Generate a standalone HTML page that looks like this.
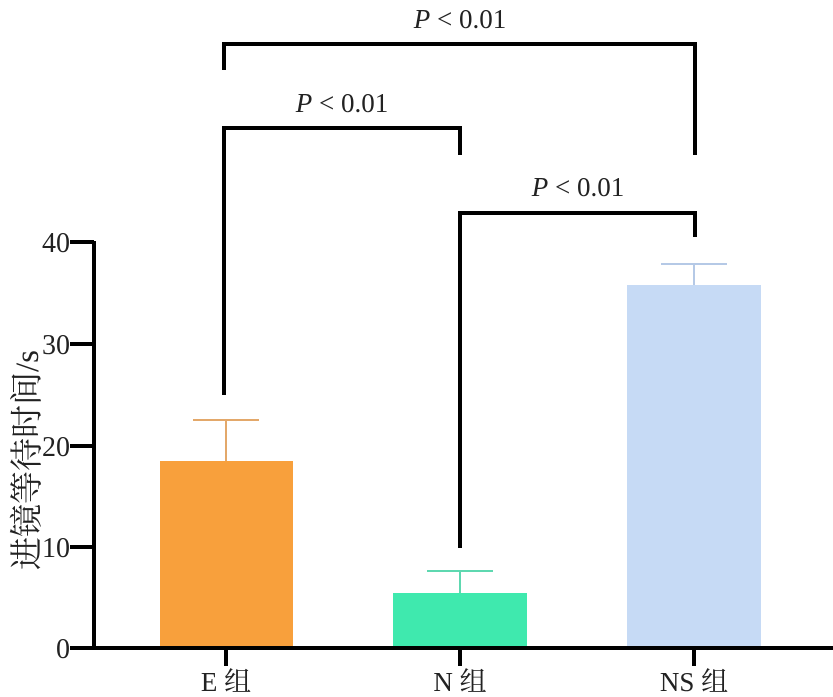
<!DOCTYPE html>
<html><head><meta charset="utf-8"><style>body{margin:0;background:#fff}
svg text{font-family:"Liberation Serif","Times New Roman","Noto Serif CJK SC",serif;fill:#222}
</style></head><body>
<svg width="833" height="697" viewBox="0 0 833 697" xmlns="http://www.w3.org/2000/svg" style="display:block">
<rect x="160" y="461" width="133" height="187" fill="#F8A03C"/>
<rect x="393" y="593" width="134" height="55" fill="#3FE9AE"/>
<rect x="627" y="285" width="134" height="363" fill="#C6DAF5"/>
<g stroke-width="2">
<line x1="226" y1="461" x2="226" y2="420" stroke="#E3A86A"/><line x1="193" y1="420" x2="259" y2="420" stroke="#E3A86A"/>
<line x1="460" y1="593" x2="460" y2="571" stroke="#5ED8B0"/><line x1="427" y1="571" x2="493" y2="571" stroke="#5ED8B0"/>
<line x1="694" y1="285" x2="694" y2="264" stroke="#B5C9E6"/><line x1="661" y1="264" x2="727" y2="264" stroke="#B5C9E6"/>
</g>
<g stroke="#000" stroke-width="4" fill="none">
<line x1="94" y1="241" x2="94" y2="650"/>
<line x1="92" y1="648" x2="833" y2="648"/>
<line x1="70" y1="242" x2="94" y2="242"/>
<line x1="70" y1="344" x2="94" y2="344"/>
<line x1="70" y1="446" x2="94" y2="446"/>
<line x1="70" y1="547" x2="94" y2="547"/>
<line x1="70" y1="648" x2="94" y2="648"/>
<line x1="226" y1="648" x2="226" y2="666"/>
<line x1="460" y1="648" x2="460" y2="666"/>
<line x1="694" y1="648" x2="694" y2="666"/>
<polyline points="224,70 224,44 695,44 695,155"/>
<polyline points="224,395 224,128 460,128 460,155"/>
<polyline points="460,548 460,213 695,213 695,237"/>
</g>
<g font-size="28" text-anchor="end">
<text x="70" y="252">40</text><text x="70" y="354">30</text><text x="70" y="456">20</text><text x="70" y="557">10</text><text x="70" y="658">0</text>
</g>
<g font-size="27" text-anchor="middle">
<text x="226" y="691">E 组</text><text x="460" y="691">N 组</text><text x="694" y="691">NS 组</text>
</g>
<g font-size="27" text-anchor="middle">
<text x="460" y="28"><tspan font-style="italic">P</tspan> &lt; 0.01</text>
<text x="342" y="112"><tspan font-style="italic">P</tspan> &lt; 0.01</text>
<text x="578" y="196"><tspan font-style="italic">P</tspan> &lt; 0.01</text>
</g>
<text transform="translate(38,460) rotate(-90)" font-size="33" text-anchor="middle">进镜等待时间/s</text>
</svg>
</body></html>
